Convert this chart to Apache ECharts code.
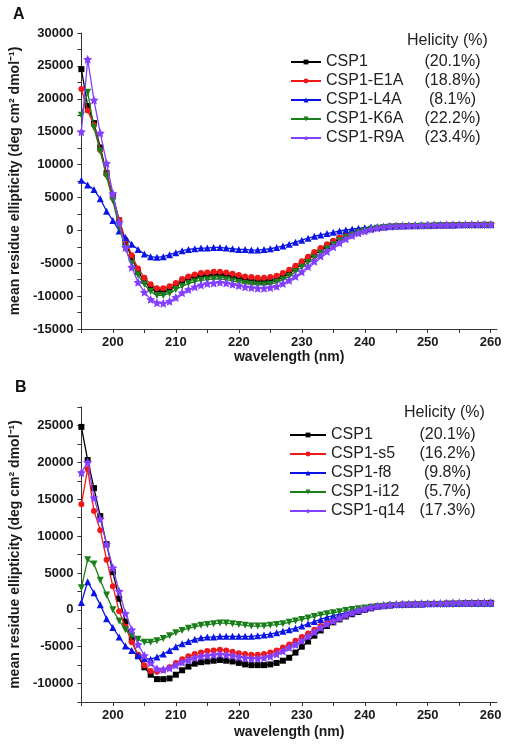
<!DOCTYPE html>
<html>
<head>
<meta charset="utf-8">
<script src="https://cdn.jsdelivr.net/npm/echarts@6/dist/echarts.min.js"></script>
<style>html,body{margin:0;padding:0;background:#fff}#c{width:507px;height:750px}</style>
</head>
<body>
<div id="c"></div>
<script>
// wavelength (nm)
var wavelength = [195,196,197,198,199,200,201,202,203,204,205,206,207,208,209,210,211,212,213,214,215,216,217,218,219,220,221,222,223,224,225,226,227,228,229,230,231,232,233,234,235,236,237,238,239,240,241,242,243,244,245,246,247,248,249,250,251,252,253,254,255,256,257,258,259,260];

// Panel A
var namesA = ['CSP1','CSP1-E1A','CSP1-L4A','CSP1-K6A','CSP1-R9A'];
var helicityA = ['(20.1%)','(18.8%)','(8.1%)','(22.2%)','(23.4%)'];
var aCSP1 = [24500,18900,16300,12600,8700,5200,1500,-1800,-4200,-6300,
  -7700,-8800,-9300,-9300,-9000,-8400,-7800,-7300,-7000,-6900,
  -6800,-6700,-6700,-6800,-7000,-7300,-7500,-7700,-7800,-7800,
  -7700,-7400,-7000,-6500,-5800,-5100,-4400,-3700,-3000,-2400,
  -1800,-1300,-900,-500,-200,0,200,350,450,550,
  600,600,650,650,700,700,700,750,750,750,
  800,800,800,800,850,850];
var aE1A = [21500,18200,16000,12200,8500,5000,1600,-1400,-3800,-5800,
  -7200,-8200,-8800,-8800,-8500,-8000,-7400,-7000,-6700,-6500,
  -6400,-6300,-6300,-6400,-6600,-6800,-7000,-7100,-7200,-7200,
  -7100,-6900,-6500,-6000,-5400,-4700,-4000,-3300,-2700,-2100,
  -1600,-1100,-700,-400,-150,50,250,400,500,600,
  650,650,700,700,700,750,750,750,800,800,
  800,800,850,850,850,850];
var aL4A = [7600,6900,6200,4800,2900,1500,-100,-1100,-2100,-2900,
  -3600,-4000,-4100,-4000,-3700,-3400,-3100,-2900,-2800,-2700,
  -2700,-2600,-2600,-2700,-2800,-2900,-2900,-3000,-3000,-2900,
  -2800,-2600,-2400,-2100,-1800,-1500,-1200,-900,-700,-500,
  -300,-100,50,200,300,400,500,550,600,650,
  700,750,750,800,800,800,850,850,850,850,
  900,900,900,900,900,900];
var aK6A = [17500,21000,15600,12000,8200,4500,500,-2800,-5000,-6800,
  -8200,-9300,-9900,-9900,-9600,-9000,-8500,-8100,-7800,-7600,
  -7500,-7400,-7400,-7500,-7700,-7900,-8100,-8200,-8300,-8300,
  -8200,-7900,-7500,-7000,-6300,-5600,-4900,-4200,-3500,-2800,
  -2200,-1600,-1100,-700,-350,-100,150,300,400,450,
  500,550,550,600,600,600,650,650,650,650,
  700,700,700,700,700,700];
var aR9A = [15000,26000,19800,14800,10200,5600,1200,-2600,-5600,-7900,
  -9400,-10500,-11000,-11100,-10800,-10200,-9500,-9000,-8600,-8300,
  -8100,-8000,-7900,-8000,-8200,-8400,-8600,-8700,-8800,-8800,
  -8700,-8500,-8100,-7600,-7000,-6300,-5500,-4700,-3900,-3200,
  -2500,-1900,-1300,-800,-400,-100,150,350,500,600,
  650,700,700,750,750,800,800,800,850,850,
  850,900,900,900,900,900];

// Panel B
var namesB = ['CSP1','CSP1-s5','CSP1-f8','CSP1-i12','CSP1-q14'];
var helicityB = ['(20.1%)','(16.2%)','(9.8%)','(5.7%)','(17.3%)'];
var bCSP1 = [24800,20300,16500,12700,8900,5100,1500,-1600,-4100,-6300,
  -7800,-8800,-9400,-9400,-9300,-8800,-8200,-7700,-7300,-7100,
  -7000,-6900,-6800,-6900,-7000,-7200,-7400,-7500,-7500,-7500,
  -7400,-7200,-6900,-6500,-5800,-5000,-4300,-3500,-2800,-2200,
  -1700,-1300,-900,-600,-300,0,200,400,500,600,
  650,700,700,750,750,800,800,800,850,850,
  850,900,900,900,900,950];
var bS5 = [14300,19100,13400,10800,6800,3200,-200,-2300,-4400,-6100,
  -7500,-8300,-8400,-8200,-7800,-7200,-6700,-6300,-6000,-5800,
  -5600,-5500,-5400,-5500,-5700,-5900,-6000,-6100,-6100,-6000,
  -5800,-5500,-5100,-4700,-4200,-3700,-3200,-2700,-2200,-1800,
  -1400,-1000,-700,-400,-100,100,300,450,550,600,
  650,700,700,750,750,800,800,800,850,850,
  850,850,900,900,900,900];
var bF8 = [1000,3800,2300,700,-1200,-2400,-3700,-4900,-5500,-6200,
  -6600,-6700,-6400,-6000,-5500,-5000,-4600,-4300,-4000,-3800,
  -3700,-3700,-3600,-3600,-3600,-3600,-3600,-3600,-3500,-3400,
  -3300,-3100,-2900,-2700,-2500,-2200,-1900,-1600,-1300,-1000,
  -800,-600,-400,-200,0,200,400,550,650,700,
  750,750,800,800,800,850,850,850,850,900,
  900,900,900,900,900,900];
var bI12 = [3000,6800,6200,4000,2000,0,-1500,-2700,-3500,-4000,
  -4400,-4400,-4200,-3900,-3500,-3100,-2800,-2500,-2300,-2100,
  -2000,-1900,-1800,-1800,-1900,-2000,-2100,-2200,-2200,-2200,
  -2100,-2000,-1900,-1700,-1500,-1300,-1100,-900,-700,-550,
  -400,-250,-100,50,150,250,350,450,500,550,
  600,600,650,650,650,700,700,700,700,700,
  750,750,750,750,750,750];
var bQ14 = [18600,20000,15200,12300,8900,5700,2500,-500,-2700,-4700,
  -6200,-7200,-8000,-8100,-7900,-7500,-7100,-6800,-6500,-6300,
  -6200,-6100,-6000,-6100,-6200,-6400,-6500,-6600,-6600,-6500,
  -6300,-6000,-5600,-5100,-4700,-4200,-3600,-3000,-2400,-1900,
  -1500,-1100,-700,-400,-100,150,350,500,600,700,
  750,800,800,850,850,850,900,900,900,950,
  950,950,950,1000,1000,1000];

// tick labels / marks
var xTickLabels = [200,210,220,230,240,250,260];
var xTickMarks = [195,200,205,210,215,220,225,230,235,240,245,250,255,260];
var yTickLabelsA = [-15000,-10000,-5000,0,5000,10000,15000,20000,25000,30000];
var yTickMarksA = [-15000,-12500,-10000,-7500,-5000,-2500,0,2500,5000,7500,10000,12500,15000,17500,20000,22500,25000,27500,30000];
var yTickLabelsB = [-10000,-5000,0,5000,10000,15000,20000,25000];
var yTickMarksB = [-12500,-10000,-7500,-5000,-2500,0,2500,5000,7500,10000,12500,15000,17500,20000,22500,25000,27500];

var colors = ['#000000','#f01818','#0a14e6','#1a7f1a','#8440ff'];
var STAR = 'path://M0,-10 L2.9,-4 L9.5,-3.1 L4.7,1.5 L5.9,8.1 L0,5 L-5.9,8.1 L-4.7,1.5 L-9.5,-3.1 L-2.9,-4 Z';
var symbols = ['rect','circle','triangle','triangle',STAR];
var symRot = [0,0,0,180,0];
var symSize = [6,6,7,7,9];

function pair(arr){ return wavelength.map(function(w,i){ return [w, arr[i]]; }); }

function makeSeries(names, dataArrs, idx){
  return names.map(function(n,i){
    return {
      type:'line', name:n, xAxisIndex:idx, yAxisIndex:idx,
      data: pair(dataArrs[i]),
      symbol: symbols[i], symbolRotate: symRot[i], symbolSize: symSize[i],
      showAllSymbol: true,
      lineStyle:{color:colors[i], width:1.3},
      itemStyle:{color:colors[i]},
      animation:false, z: 2+i
    };
  });
}

var labelFont = {fontFamily:'Liberation Sans, Arial, sans-serif', fontWeight:'bold', fontSize:13, color:'#1a1a1a'};
var nameFont = {fontFamily:'Liberation Sans, Arial, sans-serif', fontWeight:'bold', fontSize:14, color:'#1a1a1a'};
function plain(v){ return String(v); }

function xAx(idx, gap){
  return {
    type:'value', gridIndex:idx, min:195, max:261,
    name:'wavelength (nm)', nameLocation:'middle', nameGap:gap, nameTextStyle:nameFont,
    axisLine:{show:true, onZero:false, lineStyle:{color:'#333', width:1}},
    axisTick:{show:true, length:4, customValues:xTickMarks, lineStyle:{color:'#333'}},
    axisLabel:Object.assign({margin:7, customValues:xTickLabels, formatter:plain}, labelFont),
    splitLine:{show:false}
  };
}
function yAx(idx, mn, mx, labels, marks){
  return {
    type:'value', gridIndex:idx, min:mn, max:mx,
    name:'mean residue ellipticity (deg cm\u00B2 dmol\u207B\u00B9)', nameLocation:'middle', nameGap:44, nameRotate:90,
    nameTextStyle:nameFont,
    axisLine:{show:true, onZero:false, lineStyle:{color:'#333', width:1}},
    axisTick:{show:true, length:4, customValues:marks, lineStyle:{color:'#333'}},
    axisLabel:Object.assign({margin:8, customValues:labels, formatter:plain}, labelFont),
    splitLine:{show:false}
  };
}

function legendFor(names, hel, idx, left, top, iw, nameW){
  var map = {};
  names.forEach(function(n,i){ map[n]=hel[i]; });
  return {
    data: names, left:left, top:top, orient:'vertical', padding:0,
    itemWidth: iw, itemHeight: 6, itemGap: 3,
    selectedMode:false,
    formatter: function(n){ return '{n|'+n+'}{h|'+map[n]+'}'; },
    textStyle:{
      fontFamily:'Liberation Sans, Arial, sans-serif', fontSize:16, color:'#222', lineHeight:14,
      rich:{
        n:{width:nameW, fontSize:16, lineHeight:14, fontFamily:'Liberation Sans, Arial, sans-serif', color:'#222'},
        h:{width:57, align:'center', fontSize:16, lineHeight:14, fontFamily:'Liberation Sans, Arial, sans-serif', color:'#222'}
      }
    }
  };
}

var chart = echarts.init(document.getElementById('c'), null, {renderer:'canvas'});
chart.setOption({
  backgroundColor:'#fff',
  animation:false,
  grid:[
    {left:80, top:33, width:417, height:296},
    {left:81, top:407, width:416, height:295}
  ],
  xAxis:[xAx(0,21), xAx(1,23)],
  yAxis:[yAx(0,-15000,30000,yTickLabelsA,yTickMarksA), yAx(1,-12500,27500,yTickLabelsB,yTickMarksB)],
  legend:[
    legendFor(namesA, helicityA, 0, 290, 54, 30, 98),
    legendFor(namesB, helicityB, 1, 289, 427, 36, 88)
  ],
  graphic:[
    {type:'text', left:13, top:7, style:{text:'A', font:'bold 16px "Liberation Sans", Arial, sans-serif', fill:'#111'}},
    {type:'text', left:15, top:380, style:{text:'B', font:'bold 16px "Liberation Sans", Arial, sans-serif', fill:'#111'}},
    {type:'text', left:407, top:33, style:{text:'Helicity (%)', font:'16px "Liberation Sans", Arial, sans-serif', fill:'#222'}},
    {type:'text', left:404, top:405, style:{text:'Helicity (%)', font:'16px "Liberation Sans", Arial, sans-serif', fill:'#222'}}
  ],
  series: makeSeries(namesA,[aCSP1,aE1A,aL4A,aK6A,aR9A],0).concat(makeSeries(namesB,[bCSP1,bS5,bF8,bI12,bQ14],1))
});
</script>
</body>
</html>
